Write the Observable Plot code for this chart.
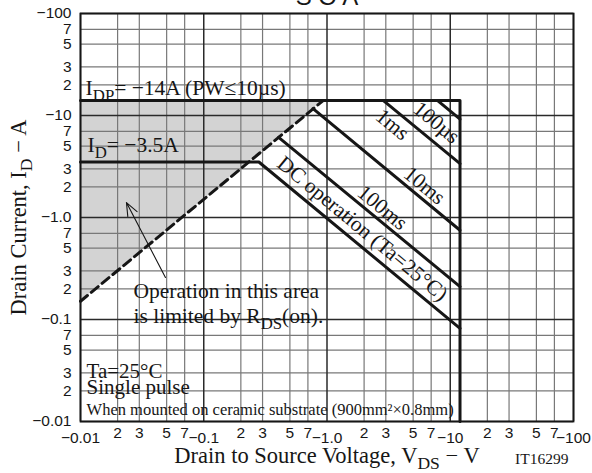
<!DOCTYPE html>
<html><head><meta charset="utf-8">
<script src="https://cdn.jsdelivr.net/npm/d3@7"></script>
<script src="https://cdn.jsdelivr.net/npm/@observablehq/plot@0.6"></script>
<style>
html,body{margin:0;padding:0;background:#fff;}
#chart svg{display:block;}
</style></head>
<body><div id="chart"></div>
<script>
// ---------- values (magnitudes; the chart labels them negative) ----------
const xMajorTicks = [0.01, 0.1, 1, 10, 100];
const xMajorLabels = ["−0.01", "−0.1", "−1.0", "−10", "−100"];
const yMajorTicks = [0.01, 0.1, 1, 10, 100];
const yMajorLabels = ["−0.01", "−0.1", "−1.0", "−10", "−100"];
const minorTicks = [0.02, 0.03, 0.05, 0.07, 0.2, 0.3, 0.5, 0.7, 2, 3, 5, 7, 20, 30, 50, 70];
const minorLabels = ["2", "3", "5", "7", "2", "3", "5", "7", "2", "3", "5", "7", "2", "3", "5", "7"];

// SOA boundaries: VDS (V), ID (A)
const boundaryV = [0.01, 12, 12];      // IDP = 14 A, VDSS = 12 V
const boundaryI = [14, 14, 0.01];
const idV = [0.01, 0.28, 12];          // ID = 3.5 A then DC operation
const idI = [3.5, 3.5, 0.082];
const rdsV = [0.01, 0.93];             // RDS(on) limit (dashed)
const rdsI = [0.151, 14];
const us100V = [7.9, 12];
const us100I = [14, 9.2];
const ms1V = [2.87, 12];
const ms1I = [14, 3.37];
const ms10V = [0.77, 12];
const ms10I = [11.7, 0.75];
const ms100V = [0.405, 12];
const ms100I = [6.1, 0.21];
const shadeV = [0.01, 0.93];
const shadeLo = [0.151, 14];
const shadeHi = [14, 14];

const lineLabels = ["100µs", "1ms", "10ms", "100ms", "DC operation (Ta=25°C)"];
const lineLabelV = [7.74, 3.40, 6.18, 2.82, 1.94];
const lineLabelI = [8.54, 8.16, 2.06, 1.25, 0.78];

const noteTexts = ["I{DP}= −14A (PW≤10µs)", "I{D}= −3.5A", "Operation in this area", "is limited by R{DS}(on)."];
const noteV = [0.011, 0.0114, 0.0269, 0.0269];
const noteI = [18.6, 5.1, 0.190, 0.108];
const condTexts = ["Ta=25°C", "Single pulse"];
const condV = [0.0112, 0.0112];
const condI = [0.0312, 0.0218];
const mountText = ["When mounted on ceramic substrate (900mm²×0.8mm)"];
const mountV = [0.0112];
const mountI = [0.0131];

const arrowFrom = [0.0489, 0.258];
const arrowTo = [0.0236, 1.40];

const xTitle = "Drain to Source Voltage, V{DS} − V";
const yTitle = "Drain Current, I{D} − A";
const codeText = "IT16299";
const topTitle = "S O A";

// ---------- chart ----------
const serif = "Liberation Serif, Times New Roman, serif";
const sans = "Liberation Sans, Arial, sans-serif";
const ink = "#161616";

const chart = Plot.plot({
  width: 592, height: 473,
  marginLeft: 80, marginRight: 19, marginTop: 13, marginBottom: 52,
  x: {type: "log", domain: [0.01, 100], axis: null},
  y: {type: "log", domain: [0.01, 100], axis: null},
  style: {fontFamily: sans, fontSize: "15.5px", color: ink, background: "#fff"},
  marks: [
    Plot.areaY(shadeV, {x: shadeV, y1: shadeLo, y2: shadeHi, fill: "#d3d3d3"}),
    Plot.ruleX(minorTicks, {stroke: "#787878", strokeWidth: 1.2, ariaLabel: "grid-minor-x"}),
    Plot.ruleY(minorTicks, {stroke: "#787878", strokeWidth: 1.2, ariaLabel: "grid-minor-y"}),
    Plot.ruleX(xMajorTicks, {stroke: "#2a2a2a", strokeWidth: 1.5, ariaLabel: "grid-major-x"}),
    Plot.ruleY(yMajorTicks, {stroke: "#2a2a2a", strokeWidth: 1.5, ariaLabel: "grid-major-y"}),
    Plot.line(boundaryV, {x: boundaryV, y: boundaryI, stroke: ink, strokeWidth: 3}),
    Plot.line(idV, {x: idV, y: idI, stroke: ink, strokeWidth: 3}),
    Plot.line(us100V, {x: us100V, y: us100I, stroke: ink, strokeWidth: 3}),
    Plot.line(ms1V, {x: ms1V, y: ms1I, stroke: ink, strokeWidth: 3}),
    Plot.line(ms10V, {x: ms10V, y: ms10I, stroke: ink, strokeWidth: 3}),
    Plot.line(ms100V, {x: ms100V, y: ms100I, stroke: ink, strokeWidth: 3}),
    Plot.line(rdsV, {x: rdsV, y: rdsI, stroke: ink, strokeWidth: 3, strokeDasharray: "9,5"}),
    Plot.arrow([0], {x1: [arrowFrom[0]], y1: [arrowFrom[1]], x2: [arrowTo[0]], y2: [arrowTo[1]],
      stroke: ink, strokeWidth: 1.1, headLength: 19, headAngle: 44}),
    Plot.text(lineLabels, {x: lineLabelV, y: lineLabelI, text: d => d, rotate: 39.6,
      fontFamily: serif, fontSize: 21.5, fill: ink}),
    Plot.text(noteTexts, {x: noteV, y: noteI, text: d => d, textAnchor: "start",
      fontFamily: serif, fontSize: 21.5, fill: ink}),
    Plot.text(condTexts, {x: condV, y: condI, text: d => d, textAnchor: "start",
      fontFamily: serif, fontSize: 21, fill: ink}),
    Plot.text(mountText, {x: mountV, y: mountI, text: d => d, textAnchor: "start",
      fontFamily: serif, fontSize: 16.5, fill: ink}),
    Plot.text([xTitle], {frameAnchor: "bottom", textAnchor: "middle", dy: 41, text: d => d, fontFamily: serif, fontSize: 22.5, fill: ink}),
    Plot.text([yTitle], {frameAnchor: "left", textAnchor: "middle", dx: -62, rotate: -90, text: d => d, fontFamily: serif, fontSize: 22.5, fill: ink}),
    Plot.text([codeText], {frameAnchor: "bottom-right", textAnchor: "end", dx: -5, dy: 42, text: d => d, fontFamily: serif, fontSize: 15.5, fill: ink}),
    Plot.text([topTitle], {frameAnchor: "top", textAnchor: "middle", dy: -9, lineAnchor: "bottom", text: d => d, fontFamily: sans, fontSize: 24, fill: ink}),
    // tick labels
    Plot.text(yMajorTicks, {y: yMajorTicks, frameAnchor: "left", textAnchor: "end", dx: -9, text: (d, i) => yMajorLabels[i], fill: ink}),
    Plot.text(minorTicks, {y: minorTicks, frameAnchor: "left", textAnchor: "end", dx: -9, text: (d, i) => minorLabels[i], fill: ink}),
    Plot.text(xMajorTicks, {x: xMajorTicks, frameAnchor: "bottom", textAnchor: "middle", lineAnchor: "top", dy: 10, text: (d, i) => xMajorLabels[i], fill: ink}),
    Plot.text(minorTicks, {x: minorTicks, frameAnchor: "bottom", textAnchor: "middle", lineAnchor: "top", dy: 5, text: (d, i) => minorLabels[i], fill: ink}),
    Plot.frame({stroke: ink, strokeWidth: 1.8})
  ]
});
document.getElementById("chart").append(chart);

// ---------- subscripts ----------
const SVGNS = "http://www.w3.org/2000/svg";
chart.querySelectorAll("text").forEach(t => {
  const s = t.textContent;
  t.setAttribute("data-raw", s);
  if (!s.includes("{") || t.querySelector("tspan")) return;
  const fs = parseFloat(getComputedStyle(t).fontSize) || 15;
  const shift = (0.28 * fs).toFixed(2);
  const parts = s.split(/(\{[^}]*\})/).filter(p => p.length);
  t.textContent = "";
  let sub = false;
  parts.forEach(p => {
    const ts = document.createElementNS(SVGNS, "tspan");
    if (p.startsWith("{")) {
      ts.textContent = p.slice(1, -1);
      ts.setAttribute("font-size", (fs * 0.78).toFixed(2));
      ts.setAttribute("dy", shift);
      sub = true;
    } else {
      ts.textContent = p;
      if (sub) { ts.setAttribute("dy", "-" + shift); sub = false; }
    }
    t.appendChild(ts);
  });
});

// ---------- white label boxes ----------
const xr = chart.scale("x").range, yr = chart.scale("y").range;
const frameL = Math.min(...xr), frameB = Math.max(...yr);
const boxSpecs = [
  {keys: [noteTexts[0]], pad: [2, 5, 0, 0], toLeft: true},
  {keys: [noteTexts[1]], pad: [0, 3, 0, 0], toLeft: true},
  {keys: [noteTexts[2], noteTexts[3]], pad: [2, 12, 2, 6]},
  {keys: condTexts, pad: [3, 12, 0, 0], toLeft: true, toBottom: true},
  {keys: mountText, pad: [0, 3, 0, 0], toLeft: true, toBottom: true},
  ...lineLabels.map(k => ({keys: [k], pad: [-1, 3, -1, 3], rotated: true}))
];
const layer = document.createElementNS(SVGNS, "g");
layer.setAttribute("aria-label", "label-boxes");
const grids = chart.querySelectorAll('g[aria-label^="grid"]');
if (grids.length) grids[grids.length - 1].after(layer);
else chart.insertBefore(layer, chart.firstChild.nextSibling);
const texts = Array.from(chart.querySelectorAll("text"));
boxSpecs.forEach(spec => {
  const els = texts.filter(t => spec.keys.includes(t.getAttribute("data-raw")));
  if (!els.length) return;
  const [pt, pr, pb, pl] = spec.pad;
  if (spec.rotated) {
    els.forEach(t => {
      const b = t.getBBox(), m = t.getCTM();
      const r = document.createElementNS(SVGNS, "rect");
      r.setAttribute("x", b.x - pl); r.setAttribute("y", b.y - pt);
      r.setAttribute("width", b.width + pl + pr); r.setAttribute("height", b.height + pt + pb);
      r.setAttribute("transform", `matrix(${m.a},${m.b},${m.c},${m.d},${m.e},${m.f})`);
      r.setAttribute("fill", "#fff");
      layer.appendChild(r);
    });
  } else {
    let x0 = Infinity, y0 = Infinity, x1 = -Infinity, y1 = -Infinity;
    els.forEach(t => {
      const b = t.getBBox(), m = t.getCTM();
      [[b.x, b.y], [b.x + b.width, b.y], [b.x, b.y + b.height], [b.x + b.width, b.y + b.height]].forEach(([px, py]) => {
        const X = m.a * px + m.c * py + m.e, Y = m.b * px + m.d * py + m.f;
        x0 = Math.min(x0, X); x1 = Math.max(x1, X); y0 = Math.min(y0, Y); y1 = Math.max(y1, Y);
      });
    });
    x0 -= pl; x1 += pr; y0 -= pt; y1 += pb;
    if (spec.toLeft) x0 = frameL;
    if (spec.toBottom) y1 = frameB;
    const r = document.createElementNS(SVGNS, "rect");
    r.setAttribute("x", x0); r.setAttribute("y", y0);
    r.setAttribute("width", x1 - x0); r.setAttribute("height", y1 - y0);
    r.setAttribute("fill", "#fff");
    layer.appendChild(r);
  }
});
</script>
</body></html>
